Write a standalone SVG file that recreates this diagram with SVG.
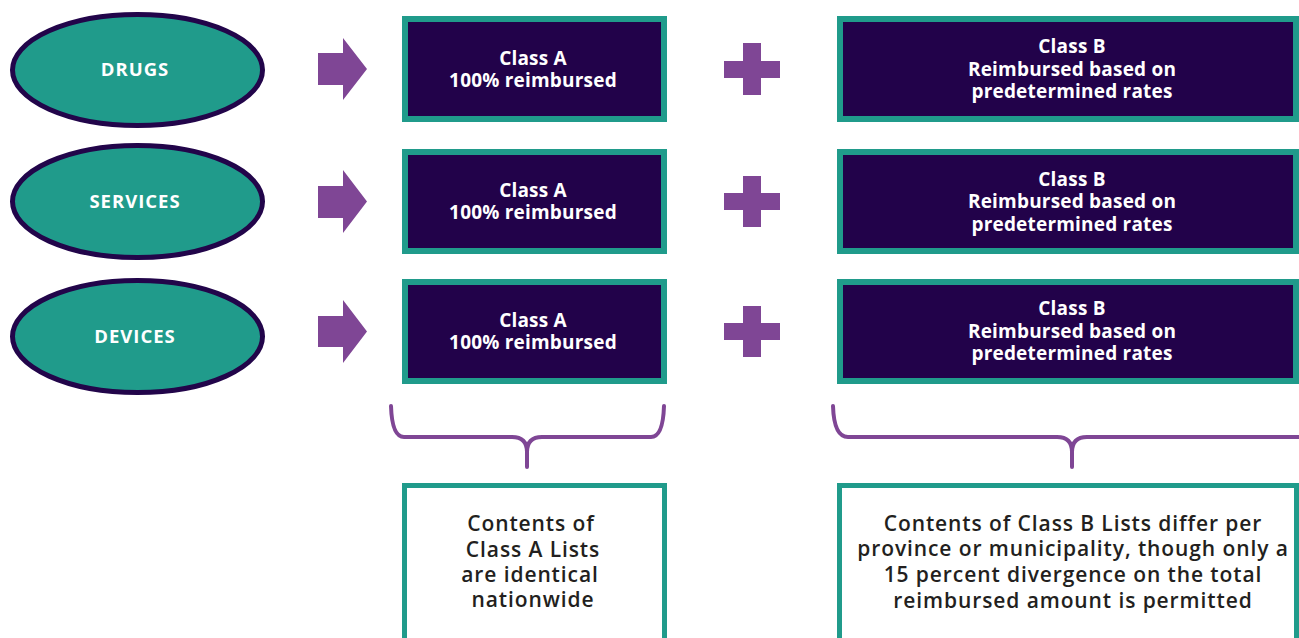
<svg xmlns="http://www.w3.org/2000/svg" width="1299" height="638" viewBox="0 0 1299 638">
  <style>
    .cat ellipse { fill: #209b8b; stroke: #22054a; stroke-width: 5; }
    .cat text { font-family: "Open Sans", "Liberation Sans", sans-serif; font-weight: 700; font-size: 18.5px; letter-spacing: 1px; fill: #ffffff; text-anchor: middle; }
    .cls rect { fill: #22024a; stroke: #209b8b; stroke-width: 6; }
    .cls text { font-family: "Open Sans", "Liberation Sans", sans-serif; font-weight: 700; font-size: 19px; letter-spacing: 0.2px; fill: #ffffff; text-anchor: middle; }
    .note rect { fill: #ffffff; stroke: #209b8b; stroke-width: 5; }
    .note text { font-family: "Open Sans", "Liberation Sans", sans-serif; font-weight: 600; font-size: 21px; letter-spacing: 0.9px; fill: #231f20; text-anchor: middle; }
    .arrow, .plus { fill: #7f4695; }
    .brace { fill: none; stroke: #7f4695; stroke-width: 4; stroke-linecap: round; stroke-linejoin: round; }
  </style>

  <!-- categories -->
  <g id="drugs" class="cat">
    <ellipse cx="137.5" cy="70" rx="125" ry="55.5"/>
    <text x="135" y="76">DRUGS</text>
  </g>
  <g id="services" class="cat">
    <ellipse cx="137.5" cy="201.5" rx="125" ry="56"/>
    <text x="135" y="208">SERVICES</text>
  </g>
  <g id="devices" class="cat">
    <ellipse cx="137.5" cy="336.5" rx="125" ry="56"/>
    <text x="135" y="343">DEVICES</text>
  </g>

  <!-- Class A boxes -->
  <g id="classA-drugs" class="cls">
    <rect x="405" y="19" width="259" height="100"/>
    <text x="533" y="64.5">Class A</text>
    <text x="533" y="86.5">100% reimbursed</text>
  </g>
  <g id="classA-services" class="cls">
    <rect x="405" y="152" width="259" height="99"/>
    <text x="533" y="196.5">Class A</text>
    <text x="533" y="218.5">100% reimbursed</text>
  </g>
  <g id="classA-devices" class="cls">
    <rect x="405" y="282" width="259" height="99"/>
    <text x="533" y="326.5">Class A</text>
    <text x="533" y="348.5">100% reimbursed</text>
  </g>

  <!-- Class B boxes -->
  <g id="classB-drugs" class="cls">
    <rect x="840" y="19" width="456" height="100"/>
    <text x="1072" y="52.5">Class B</text>
    <text x="1072" y="75.5">Reimbursed based on</text>
    <text x="1072" y="97.5">predetermined rates</text>
  </g>
  <g id="classB-services" class="cls">
    <rect x="840" y="152" width="456" height="99"/>
    <text x="1072" y="185.5">Class B</text>
    <text x="1072" y="207.5">Reimbursed based on</text>
    <text x="1072" y="230.5">predetermined rates</text>
  </g>
  <g id="classB-devices" class="cls">
    <rect x="840" y="282" width="456" height="99"/>
    <text x="1072" y="314.5">Class B</text>
    <text x="1072" y="337.5">Reimbursed based on</text>
    <text x="1072" y="359.5">predetermined rates</text>
  </g>

  <!-- notes -->
  <g id="note-classA" class="note">
    <rect x="404.5" y="485.5" width="260" height="200"/>
    <text x="531" y="530.5">Contents of</text>
    <text x="533" y="556.5">Class A Lists</text>
    <text x="530" y="582">are identical</text>
    <text x="533" y="607">nationwide</text>
  </g>
  <g id="note-classB" class="note">
    <rect x="839.5" y="485.5" width="457" height="200"/>
    <text x="1073" y="530.5">Contents of Class B Lists differ per</text>
    <text x="1073" y="556">province or municipality, though only a</text>
    <text x="1073" y="582">15 percent divergence on the total</text>
    <text x="1073" y="607.5">reimbursed amount is permitted</text>
  </g>

  <!-- connectors: arrows, plus signs, braces -->
  <g id="connectors">
    <polygon class="arrow" points="318,53 343,53 343,38 367,69 343,100 343,85 318,85"/>
    <polygon class="arrow" points="318,186 343,186 343,170 367,201.5 343,233 343,218 318,218"/>
    <polygon class="arrow" points="318,316 343,316 343,300 367,331.5 343,363 343,347 318,347"/>

    <path class="plus" d="M743,43 H761 V61 H780 V78 H761 V95 H743 V78 H724 V61 H743 Z"/>
    <path class="plus" d="M743,176 H761 V193 H780 V210 H761 V227 H743 V210 H724 V193 H743 Z"/>
    <path class="plus" d="M743,306 H761 V323 H780 V340 H761 V357 H743 V340 H724 V323 H743 Z"/>

    <path class="brace" d="M391,406 Q392,437 404,437 H512 Q527,437 527,452 V467 M527,452 Q527,437 542,437 H651 Q663,437 664,406"/>
    <path class="brace" d="M833,406 Q834,437 848,437 H1057 Q1072,437 1072,452 V467 M1072,452 Q1072,437 1087,437 H1299"/>
  </g>
</svg>
